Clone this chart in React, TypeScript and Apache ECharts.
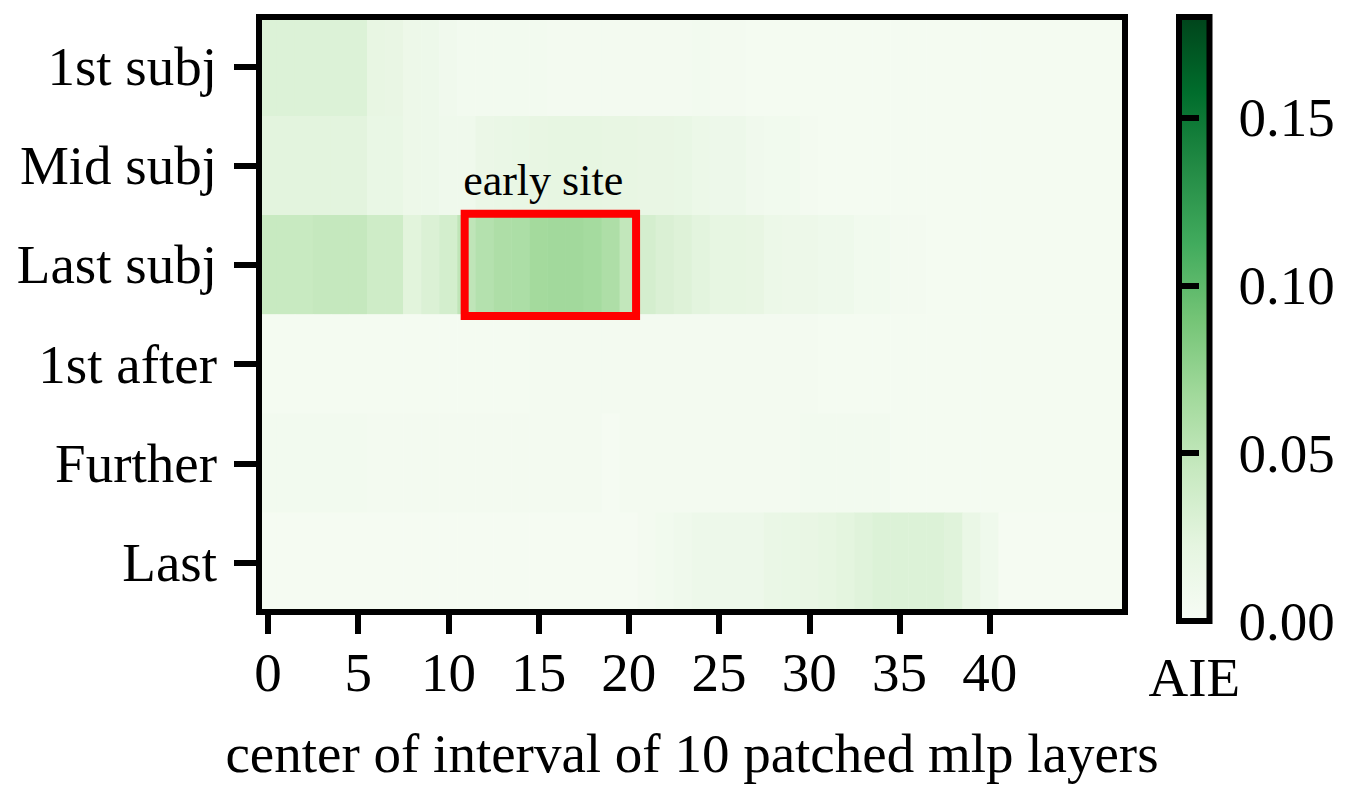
import React, { useEffect, useRef } from "react";
import * as echarts from "echarts";

const layerLabels = ["0","1","2","3","4","5","6","7","8","9","10","11","12","13","14","15","16","17","18","19","20","21","22","23","24","25","26","27","28","29","30","31","32","33","34","35","36","37","38","39","40","41","42","43","44","45","46","47"];
const tokenRows = ["1st subj", "Mid subj", "Last subj", "1st after", "Further", "Last"];

const aie1stSubj = [0.029,0.029,0.029,0.029,0.029,0.029,0.019,0.018,0.013,0.012,0.009,0.006,0.006,0.006,0.006,0.006,0.005,0.005,0.005,0.005,0.005,0.005,0.005,0.005,0.006,0.005,0.005,0.004,0.004,0.004,0.004,0.004,0.004,0.004,0.004,0.004,0.004,0.004,0.004,0.004,0.004,0.004,0.004,0.004,0.004,0.004,0.004,0.004];
const aieMidSubj = [0.024,0.024,0.024,0.024,0.024,0.024,0.017,0.017,0.013,0.012,0.010,0.010,0.015,0.016,0.017,0.019,0.020,0.020,0.020,0.019,0.019,0.018,0.018,0.017,0.014,0.012,0.012,0.009,0.008,0.007,0.005,0.004,0.004,0.004,0.004,0.004,0.004,0.004,0.004,0.004,0.004,0.004,0.004,0.004,0.004,0.004,0.004,0.004];
const aieLastSubj = [0.044,0.044,0.044,0.046,0.046,0.046,0.040,0.040,0.025,0.030,0.036,0.050,0.056,0.060,0.061,0.066,0.067,0.067,0.065,0.060,0.048,0.035,0.031,0.028,0.024,0.020,0.020,0.019,0.014,0.013,0.013,0.011,0.011,0.008,0.007,0.005,0.005,0.004,0.004,0.004,0.004,0.004,0.004,0.004,0.004,0.004,0.004,0.004];
const aie1stAfter = [0.004,0.004,0.004,0.004,0.004,0.004,0.004,0.004,0.004,0.004,0.004,0.004,0.004,0.004,0.004,0.005,0.005,0.005,0.005,0.005,0.005,0.005,0.005,0.005,0.005,0.005,0.005,0.005,0.005,0.005,0.005,0.004,0.004,0.004,0.004,0.004,0.004,0.004,0.004,0.004,0.004,0.004,0.004,0.004,0.004,0.004,0.004,0.004];
const aieFurther = [0.006,0.006,0.006,0.006,0.006,0.006,0.005,0.005,0.005,0.005,0.005,0.005,0.005,0.005,0.005,0.005,0.005,0.005,0.005,0.003,0.005,0.005,0.005,0.005,0.005,0.005,0.005,0.005,0.005,0.005,0.006,0.006,0.006,0.006,0.006,0.004,0.004,0.004,0.004,0.004,0.004,0.004,0.004,0.004,0.004,0.004,0.004,0.004];
const aieLast = [0.003,0.003,0.003,0.003,0.003,0.003,0.003,0.003,0.003,0.003,0.003,0.003,0.003,0.003,0.003,0.003,0.003,0.003,0.003,0.003,0.003,0.005,0.008,0.010,0.012,0.012,0.012,0.012,0.016,0.017,0.018,0.020,0.023,0.026,0.029,0.029,0.029,0.029,0.026,0.016,0.010,0.003,0.003,0.003,0.003,0.003,0.003,0.003];

const colorbarTicks = [0, 0.05, 0.1, 0.15];
const aieMin = 0;
const aieMax = 0.18;
const greens = ["#f7fcf5","#e5f5e0","#c7e9c0","#a1d99b","#74c476","#41ab5d","#238b45","#006d2c","#00441b"];

const earlySiteLayers = [10.9, 20.4];
const earlySiteRow = "Last subj";
const earlySiteLabel = "early site";
const earlySiteLabelLayer = 15.25;

const FONT = '"Liberation Serif", "Times New Roman", serif';

export default function App() {
  const ref = useRef<HTMLDivElement>(null);

  useEffect(() => {
    const chart = echarts.init(ref.current as HTMLDivElement, null, { renderer: "svg" });
    const rows = [aie1stSubj, aieMidSubj, aieLastSubj, aie1stAfter, aieFurther, aieLast];
    const data: number[][] = [];
    rows.forEach((r, y) => r.forEach((v, x) => data.push([x, y, v])));

    const textStyle = { fontFamily: FONT, fontSize: 55, color: "#000" };
    const showTick = (i: number) => i % 5 === 0 && i <= 40;

    chart.setOption({
      animation: false,
      backgroundColor: "#fff",
      grid: [
        { left: 259, top: 17, width: 866, height: 604, show: true, borderColor: "#000", borderWidth: 6, backgroundColor: "transparent", z: 10 },
        {
          left: 1179, top: 17, width: 30.5, height: 604, show: true, borderColor: "#000", borderWidth: 6,
          backgroundColor: {
            type: "linear", x: 0, y: 1, x2: 0, y2: 0,
            colorStops: greens.map((c, i) => ({ offset: i / (greens.length - 1), color: c })),
          },
        },
      ],
      xAxis: [
        {
          type: "category", gridIndex: 0, data: layerLabels,
          axisLine: { show: false },
          axisTick: { show: true, alignWithLabel: true, interval: showTick, length: 22, lineStyle: { width: 6, color: "#000" } },
          axisLabel: { interval: showTick, margin: 33, ...textStyle },
          splitLine: { show: false },
          name: "center of interval of 10 patched mlp layers",
          nameLocation: "middle", nameGap: 114,
          nameTextStyle: { ...textStyle },
        },
        {
          type: "value", gridIndex: 1, min: 0, max: 1,
          axisLine: { show: false }, axisTick: { show: false }, axisLabel: { show: false }, splitLine: { show: false },
          name: "AIE", nameLocation: "middle", nameGap: 29,
          nameTextStyle: { ...textStyle },
        },
      ],
      yAxis: [
        {
          type: "category", gridIndex: 0, data: tokenRows, inverse: true,
          axisLine: { show: false },
          axisTick: { show: true, alignWithLabel: true, length: 25, lineStyle: { width: 6, color: "#000" } },
          axisLabel: { margin: 42, ...textStyle },
          splitLine: { show: false },
        },
        {
          type: "value", gridIndex: 1, position: "right", min: aieMin, max: aieMax,
          axisLine: { show: false },
          axisTick: { show: true, customValues: colorbarTicks, length: 20, lineStyle: { width: 6, color: "#000" } },
          axisLabel: { customValues: colorbarTicks, formatter: (v: number) => v.toFixed(2), margin: 29, ...textStyle },
          splitLine: { show: false },
        },
      ],
      visualMap: {
        type: "continuous", show: false, min: aieMin, max: aieMax, dimension: 2, seriesIndex: 0,
        inRange: { color: greens },
      },
      series: [
        {
          type: "heatmap", xAxisIndex: 0, yAxisIndex: 0, data,
          itemStyle: { borderWidth: 0 },
          emphasis: { disabled: true },
        },
      ],
    });

    const x0 = chart.convertToPixel({ xAxisIndex: 0 }, 0) as number;
    const x1 = chart.convertToPixel({ xAxisIndex: 0 }, 1) as number;
    const cw = x1 - x0;
    const toX = (v: number) => x0 + cw * v;
    const ri = tokenRows.indexOf(earlySiteRow);
    const y0 = chart.convertToPixel({ yAxisIndex: 0 }, 0) as number;
    const y1 = chart.convertToPixel({ yAxisIndex: 0 }, 1) as number;
    const rh = Math.abs(y1 - y0);
    const cy = chart.convertToPixel({ yAxisIndex: 0 }, ri) as number;
    const bx0 = toX(earlySiteLayers[0]);
    const bx1 = toX(earlySiteLayers[1]);
    const top = cy - rh / 2 - 1.5;
    const bottom = cy + rh / 2 + 1.5;

    chart.setOption({
      graphic: [
        {
          type: "rect", z: 100,
          shape: { x: bx0, y: top, width: bx1 - bx0, height: bottom - top },
          style: { fill: "none", stroke: "#ff0000", lineWidth: 8 },
        },
        {
          type: "text", z: 100,
          x: toX(earlySiteLabelLayer), y: top - 33,
          style: { text: earlySiteLabel, fontFamily: FONT, fontSize: 44, fill: "#000", align: "center", verticalAlign: "middle" },
        },
      ],
    });

    return () => chart.dispose();
  }, []);

  return <div ref={ref} style={{ position: "absolute", left: 0, top: 0, width: 1351, height: 786 }} />;
}
